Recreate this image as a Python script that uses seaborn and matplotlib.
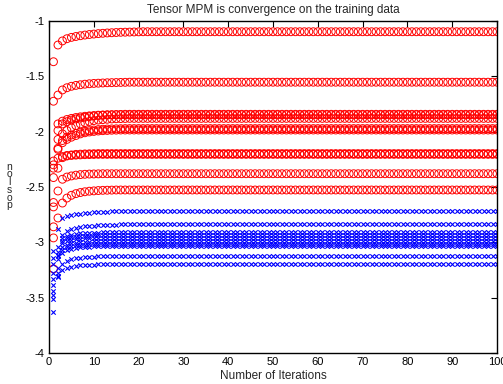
import numpy as np
import pandas as pd
import matplotlib
matplotlib.use("Agg")
import matplotlib.pyplot as plt
import seaborn as sns

TITLE = "Tensor MPM is convergence on the training data"
XLABEL = "Number of Iterations"
N_ITER = 100

red_heads = [
    [-1.368, -1.217, -1.180, -1.160, -1.148, -1.140, -1.133, -1.127, -1.122, -1.118,
     -1.114, -1.111, -1.108, -1.106, -1.104, -1.102, -1.101, -1.100, -1.099, -1.098],
    [-1.725, -1.669, -1.623, -1.603, -1.590, -1.582, -1.576, -1.571, -1.567, -1.564,
     -1.562, -1.560, -1.558, -1.557, -1.556, -1.555, -1.554],
    [-2.265, -1.930, -1.905, -1.890, -1.880, -1.872, -1.866, -1.861, -1.857, -1.854,
     -1.851, -1.849, -1.847, -1.846, -1.845, -1.844],
    [-2.300, -1.990, -1.930, -1.910, -1.895, -1.885, -1.877, -1.870, -1.864, -1.859,
     -1.855, -1.852, -1.850, -1.849],
    [-2.330, -2.070, -2.020, -1.990, -1.965, -1.945, -1.930, -1.918, -1.908, -1.900,
     -1.895, -1.891, -1.888, -1.885, -1.883, -1.882, -1.881],
    [-2.415, -2.150, -2.080, -2.050, -2.030, -2.015, -2.005, -1.997, -1.990, -1.985,
     -1.981, -1.978, -1.976, -1.975, -1.974, -1.973],
    [-2.640, -2.160, -2.100, -2.070, -2.050, -2.035, -2.020, -2.010, -2.003, -1.998,
     -1.994, -1.991, -1.989, -1.987, -1.986],
    [-2.680, -2.240, -2.225, -2.215, -2.210, -2.205, -2.203, -2.201, -2.200, -2.199],
    [-2.860, -2.330, -2.235, -2.220, -2.215, -2.212, -2.210, -2.208, -2.207, -2.206],
    [-2.960, -2.536, -2.430, -2.410, -2.400, -2.393, -2.388, -2.385, -2.383, -2.382,
     -2.381],
    [-3.240, -2.780, -2.645, -2.600, -2.575, -2.560, -2.550, -2.543, -2.538, -2.535,
     -2.532, -2.530, -2.529, -2.528],
]
red_plateaus = [-1.097, -1.553, -1.843, -1.848, -1.880, -1.972, -1.985, -2.198, -2.205,
                -2.380, -2.527]

# Blue (x) series
blue_heads = [
    [-3.075, -2.880, -2.780, -2.765, -2.755, -2.748, -2.742, -2.737, -2.733, -2.730,
     -2.727, -2.725, -2.723, -2.721, -2.720, -2.719, -2.718],
    [-3.140, -3.040, -2.930, -2.895, -2.880, -2.870, -2.862, -2.856, -2.852, -2.848,
     -2.845, -2.843, -2.841, -2.840, -2.839, -2.838],
    [-3.200, -3.085, -2.960, -2.940, -2.930, -2.924, -2.920, -2.917, -2.915, -2.913,
     -2.912, -2.911, -2.910],
    [-3.280, -3.110, -2.990, -2.965, -2.955, -2.948, -2.944, -2.941, -2.939, -2.938,
     -2.937, -2.936],
    [-3.330, -3.120, -3.010, -2.990, -2.980, -2.973, -2.968, -2.965, -2.963, -2.962,
     -2.961],
    [-3.390, -3.150, -3.040, -3.020, -3.010, -3.003, -2.998, -2.995, -2.993, -2.992,
     -2.991],
    [-3.440, -3.230, -3.070, -3.045, -3.035, -3.028, -3.023, -3.020, -3.018, -3.017,
     -3.016],
    [-3.475, -3.280, -3.100, -3.070, -3.058, -3.050, -3.045, -3.041, -3.038, -3.036,
     -3.035, -3.034],
    [-3.510, -3.310, -3.200, -3.170, -3.155, -3.145, -3.139, -3.135, -3.132, -3.130,
     -3.128, -3.127, -3.126, -3.125],
    [-3.627, -3.300, -3.250, -3.230, -3.220, -3.213, -3.208, -3.205, -3.203, -3.201,
     -3.200, -3.199, -3.198, -3.197],
]
blue_plateaus = [-2.717, -2.837, -2.909, -2.935, -2.960, -2.990, -3.015, -3.033, -3.124,
                 -3.196]

x_ticks = [0, 10, 20, 30, 40, 50, 60, 70, 80, 90, 100]
y_ticks = [-4, -3.5, -3, -2.5, -2, -1.5, -1]
y_ticklabels = ["-4", "-3.5", "-3", "-2.5", "-2", "-1.5", "-1"]


def full_series(head, plateau):
    return list(head) + [plateau] * (N_ITER - len(head))


iters = np.arange(1, N_ITER + 1)

sns.set_style("white")
plt.rcParams["font.family"] = ["Liberation Sans", "DejaVu Sans"]

fig = plt.figure(figsize=(5.03, 3.84), dpi=100)
ax = fig.add_axes([49 / 503, 1 - 353 / 384, 448 / 503, 332 / 384])

for head, plat in zip(red_heads, red_plateaus):
    df = pd.DataFrame({"iter": iters, "val": full_series(head, plat)})
    sns.scatterplot(data=df, x="iter", y="val", ax=ax, marker="o", s=32,
                    facecolor="none", edgecolor="red", color="red",
                    linewidth=0.7, legend=False, clip_on=True)

for head, plat in zip(blue_heads, blue_plateaus):
    df = pd.DataFrame({"iter": iters, "val": full_series(head, plat)})
    sns.scatterplot(data=df, x="iter", y="val", ax=ax, marker="x", s=10,
                    color="blue", linewidth=0.8, legend=False, clip_on=True)

ax.set_xlim(0, 100)
ax.set_ylim(-4, -1)
ax.set_xticks(x_ticks)
ax.set_yticks(y_ticks)
ax.set_yticklabels(y_ticklabels)
ax.tick_params(direction="in", length=4, width=0.8, labelsize=8, colors="black",
               top=True, right=True, pad=3)
for sp in ax.spines.values():
    sp.set_visible(True)
    sp.set_color("black")
    sp.set_linewidth(1.0)

ax.set_title(TITLE, fontsize=8.5, pad=6)
ax.set_xlabel(XLABEL, fontsize=8.5, labelpad=2)
ax.set_ylabel("")

# Garbled vertical y-label as in the source image
fig.text(9 / 503, 1 - 186 / 384, "n\no\nl\ns\no\np", fontsize=7.5,
         ha="center", va="center", linespacing=0.72)

fig.savefig("out.png", dpi=100)
